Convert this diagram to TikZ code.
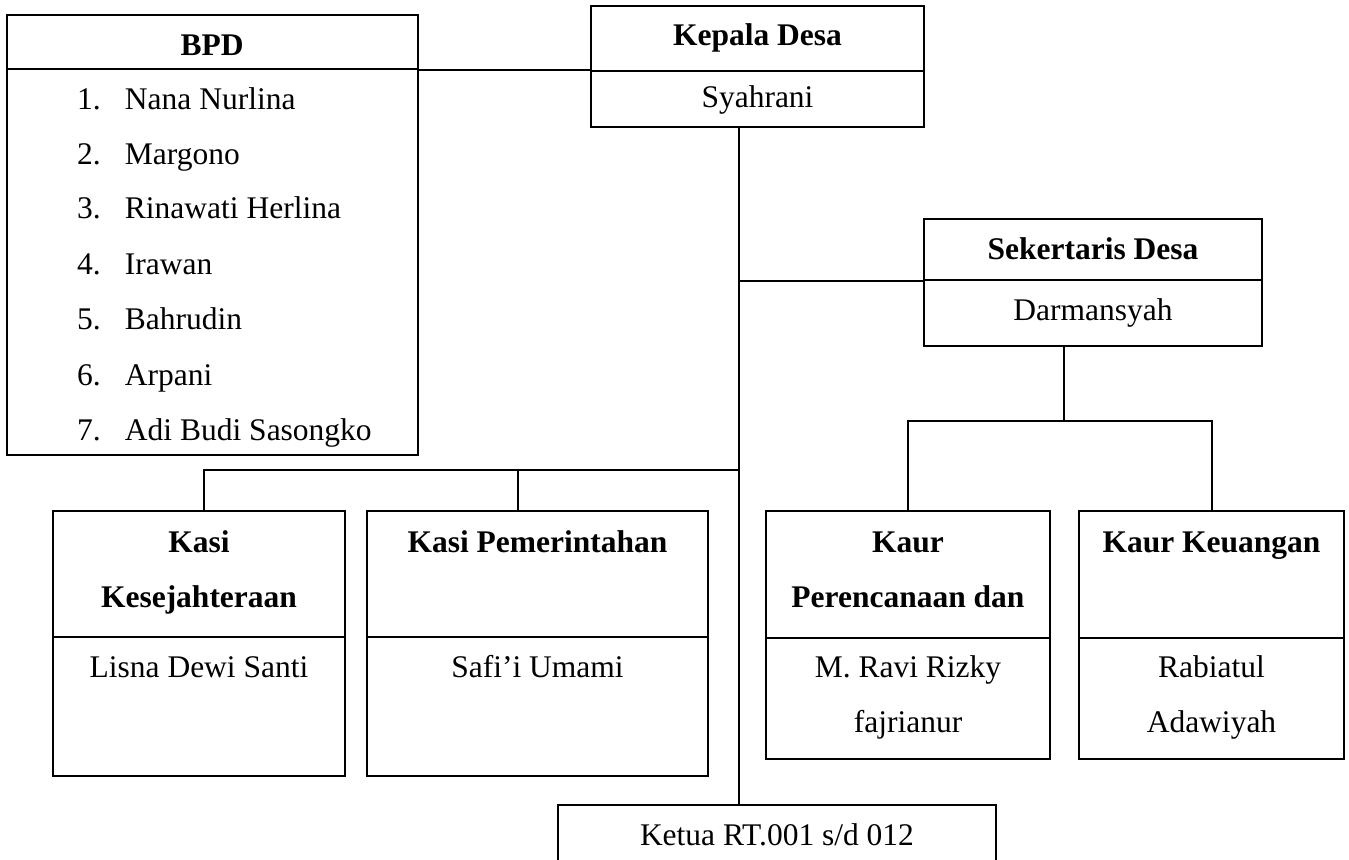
\documentclass[tikz,border=0pt]{standalone}
\usepackage{fontspec}
\setmainfont{Liberation Serif}
\usetikzlibrary{fit}

\begin{document}
\begin{tikzpicture}[
    x=0.4pt, y=-0.4pt,
    line width=0.8pt,
    box/.style={draw,inner sep=0pt,fit={#1}},
    txt/.style={anchor=base,inner sep=0pt,align=center,font=\fontsize{12.6}{22}\selectfont},
    ttl/.style={txt,font=\fontsize{12.6}{22}\selectfont\bfseries},
    item/.style={anchor=base west,inner sep=0pt,font=\fontsize{12.6}{22}\selectfont},
]
\path[use as bounding box,clip] (0,0) rectangle (1349,860);

% BPD
\node[box={(7,15) (418,69)}] (bpdH) {};
\node[box={(7,69) (418,455)}] (bpdB) {};
\node[ttl] (bpdT) at (212,55) {BPD};
\node[item] (bpd1) at (76,109) {\makebox[19.2pt][l]{1.}Nana Nurlina};
\node[item] (bpd2) at (76,164) {\makebox[19.2pt][l]{2.}Margono};
\node[item] (bpd3) at (76,219) {\makebox[19.2pt][l]{3.}Rinawati Herlina};
\node[item] (bpd4) at (76,274) {\makebox[19.2pt][l]{4.}Irawan};
\node[item] (bpd5) at (76,329) {\makebox[19.2pt][l]{5.}Bahrudin};
\node[item] (bpd6) at (76,385) {\makebox[19.2pt][l]{6.}Arpani};
\node[item] (bpd7) at (76,440) {\makebox[19.2pt][l]{7.}Adi Budi Sasongko};

% Kepala Desa
\node[box={(591,6) (924,71)}] (kadesH) {};
\node[box={(591,71) (924,127)}] (kadesB) {};
\node[ttl] (kadesT) at (757.5,46) {Kepala Desa};
\node[txt] (kadesN) at (757.5,108) {Syahrani};

% Sekertaris Desa
\node[box={(924,219) (1262,280)}] (sekH) {};
\node[box={(924,280) (1262,346)}] (sekB) {};
\node[ttl] (sekT) at (1093,259) {Sekertaris Desa};
\node[txt] (sekN) at (1093,320) {Darmansyah};

% Kasi (two-line nodes sit on the baseline of their last line)
\node[box={(53,511) (345,637)}] (kesH) {};
\node[box={(53,637) (345,776)}] (kesB) {};
\node[ttl] (kesT) at (199,607) {Kasi\\Kesejahteraan};
\node[txt] (kesN) at (199,677) {Lisna Dewi Santi};

\node[box={(367,511) (708,637)}] (pemH) {};
\node[box={(367,637) (708,776)}] (pemB) {};
\node[ttl] (pemT) at (537.5,552) {Kasi Pemerintahan};
\node[txt] (pemN) at (537.5,677) {Safi'i Umami};

% Kaur
\node[box={(766,511) (1050,638)}] (kaurH) {};
\node[box={(766,638) (1050,759)}] (kaurB) {};
\node[ttl] (kaurT) at (908,607) {Kaur\\Perencanaan dan};
\node[txt] (kaurN) at (908,732) {M. Ravi Rizky\\fajrianur};

\node[box={(1079,511) (1344,638)}] (keuH) {};
\node[box={(1079,638) (1344,759)}] (keuB) {};
\node[ttl] (keuT) at (1211.5,552) {Kaur Keuangan};
\node[txt] (keuN) at (1211.5,732) {Rabiatul\\Adawiyah};

% Ketua RT
\node[box={(558,805) (996,880)}] (rt) {};
\node[txt] (rtT) at (777,845) {Ketua RT.001 s/d 012};

% lines
\coordinate (trunk) at (739,0);
\coordinate (busL) at (204,470);
\coordinate (busM) at (518,470);
\coordinate (busR) at (1064,421);

\draw (bpdH.south east) -- (bpdH.south east -| kadesH.west);
\draw (kadesB.south -| trunk) -- (rt.north -| trunk);
\draw (sekH.south west) -- (sekH.south west -| trunk);
\draw (trunk |- busL) -- (busL) -- (busL |- kesH.north);
\draw (busM) -- (busM |- pemH.north);
\draw (sekB.south -| busR) -- (busR);
\draw (kaurH.north) |- (busR) -| (keuH.north);
\end{tikzpicture}
\end{document}
